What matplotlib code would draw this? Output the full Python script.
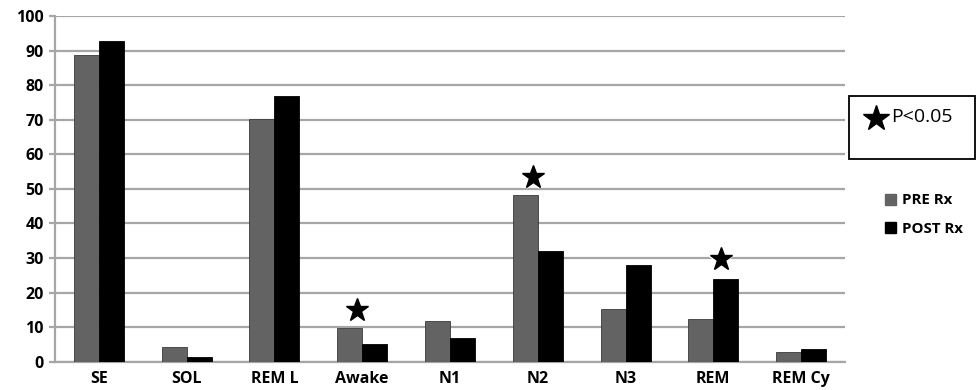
import matplotlib
matplotlib.use("Agg")
import matplotlib.pyplot as plt
from matplotlib.patches import Rectangle
from matplotlib.lines import Line2D
import numpy as np

plt.rcParams["font.family"] = ["Open Sans", "DejaVu Sans"]
plt.rcParams["font.weight"] = "bold"

categories = ["SE", "SOL", "REM L", "Awake", "N1", "N2", "N3", "REM", "REM Cy"]
pre_rx = [88.7, 4.3, 70.2, 9.7, 11.8, 48.2, 15.2, 12.3, 2.7]
post_rx = [92.8, 1.5, 77.0, 5.0, 6.8, 32.1, 28.0, 23.9, 3.7]
series_labels = ["PRE Rx", "POST Rx"]

# significance stars: category, height, small horizontal nudge
sig_cats = ["Awake", "N2", "REM"]
sig_y = [15.0, 53.5, 29.8]
sig_dx = [-0.06, -0.06, 0.085]

PRE_COL = "#636363"
POST_COL = "#000000"
GRID_COL = "#a6a6a6"

W, H = 978, 390
fig = plt.figure(figsize=(W / 100, H / 100), dpi=100)
ax = fig.add_axes([55 / W, (H - 361.7) / H, 790 / W, (361.7 - 16) / H])

x = np.arange(len(categories))
bw = 0.285
ax.bar(x - bw / 2, pre_rx, bw, color=PRE_COL, edgecolor="#3a3a3a", linewidth=0.6, zorder=3)
ax.bar(x + bw / 2, post_rx, bw, color=POST_COL, edgecolor="#000000", linewidth=0.6, zorder=3)

ax.set_xlim(-0.5, len(categories) - 0.5)
ax.set_ylim(0, 100)
ax.set_yticks(range(0, 101, 10))
ax.set_xticks(x)
ax.set_xticklabels(categories)
ax.yaxis.grid(True, color=GRID_COL, linewidth=1.6, zorder=0)
ax.set_axisbelow(True)
for s in ["top", "right"]:
    ax.spines[s].set_visible(False)
ax.spines["left"].set_color(GRID_COL)
ax.spines["left"].set_linewidth(1.6)
ax.spines["bottom"].set_color(GRID_COL)
ax.spines["bottom"].set_linewidth(1.6)
ax.tick_params(axis="y", length=4, color=GRID_COL, width=1.6, labelsize=11.5, pad=4)
ax.tick_params(axis="x", length=0, labelsize=11.5, pad=7)

for cat, yv, dx in zip(sig_cats, sig_y, sig_dx):
    i = categories.index(cat)
    ax.plot(i + dx, yv, marker="*", markersize=17, color="black",
            markeredgecolor="white", markeredgewidth=3, zorder=4)
    ax.plot(i + dx, yv, marker="*", markersize=17, color="black", zorder=5)

# P<0.05 box
fig.patches.append(Rectangle((849 / W, 1 - 159 / H), 126 / W, 63 / H,
                             transform=fig.transFigure, facecolor="white",
                             edgecolor="black", linewidth=1.3))
fig.add_artist(Line2D([876 / W], [1 - 118 / H], marker="*", markersize=19,
                      color="black", transform=fig.transFigure))
fig.text(891 / W, 1 - 117 / H, "P<0.05", fontsize=14, va="center", ha="left",
         fontweight="normal")

handles = [Rectangle((0, 0), 1, 1, color=PRE_COL), Rectangle((0, 0), 1, 1, color=POST_COL)]
fig.legend(handles, series_labels, loc="upper left",
           bbox_to_anchor=(872 / W, 1 - 180 / H), frameon=False,
           fontsize=10.8, handlelength=0.7, handleheight=0.7,
           handletextpad=0.4, labelspacing=0.95)

fig.savefig("out.png", dpi=100)
